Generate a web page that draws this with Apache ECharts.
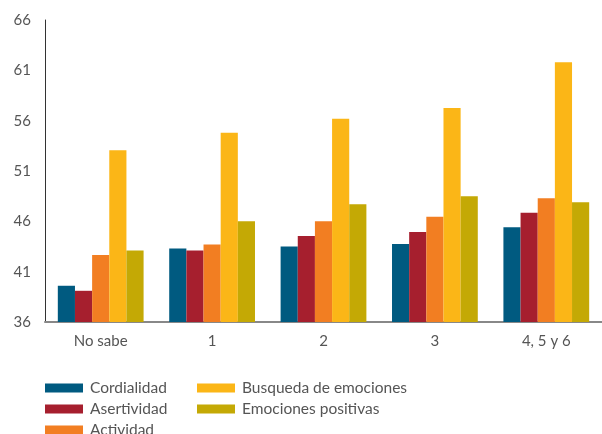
<!DOCTYPE html>
<html>
<head>
<meta charset="utf-8">
<script src="https://cdn.jsdelivr.net/npm/echarts@6/dist/echarts.min.js"></script>
<style>
  html, body { margin: 0; padding: 0; background: #fff; }
  #chart { width: 602px; height: 434px; }
</style>
</head>
<body>
<div id="chart"></div>
<script>
// Categories and series values
const categories = ['No sabe', '1', '2', '3', '4, 5 y 6'];
const cordialidad = [39.6, 43.3, 43.5, 43.75, 45.4];
const asertividad = [39.1, 43.1, 44.55, 44.95, 46.85];
const actividad = [42.65, 43.7, 46.0, 46.45, 48.3];
const busqueda = [53.05, 54.8, 56.2, 57.25, 61.8];
const emocionesPositivas = [43.1, 46.0, 47.7, 48.5, 47.9];
const yTicks = [36, 41, 46, 51, 56, 61, 66];

const seriesDefs = [
  { name: 'Cordialidad', data: cordialidad, color: '#005A80' },
  { name: 'Asertividad', data: asertividad, color: '#A61F2E' },
  { name: 'Actividad', data: actividad, color: '#F27E22' },
  { name: 'Busqueda de emociones', data: busqueda, color: '#FBB617' },
  { name: 'Emociones positivas', data: emocionesPositivas, color: '#C4A905' }
];

const font = 'Lato, "Open Sans", sans-serif';
const textColor = '#555555';

const chart = echarts.init(document.getElementById('chart'));
const legendCommon = {
  orient: 'vertical',
  height: 80,
  itemWidth: 38,
  itemHeight: 9,
  itemGap: 5,
  icon: 'rect',
  textStyle: { fontFamily: font, fontSize: 15.5, color: textColor, padding: [0, 0, 0, 2] }
};

chart.setOption({
  animation: false,
  grid: { left: 45, right: -11, top: 20, bottom: 112, containLabel: false },
  legend: [
    Object.assign({ left: 40, top: 375, data: ['Cordialidad', 'Asertividad', 'Actividad'] }, legendCommon),
    Object.assign({ left: 192, top: 375, data: ['Busqueda de emociones', 'Emociones positivas'] }, legendCommon)
  ],
  xAxis: {
    type: 'category',
    data: categories,
    axisLine: { lineStyle: { color: '#888888', width: 2 } },
    axisTick: { show: false },
    axisLabel: { fontFamily: font, fontSize: 15, color: textColor, margin: 12 }
  },
  yAxis: {
    type: 'value',
    min: yTicks[0],
    max: yTicks[yTicks.length - 1],
    interval: 5,
    axisLine: { show: true, lineStyle: { color: '#333333', width: 1 } },
    axisTick: { show: false },
    splitLine: { show: false },
    axisLabel: { fontFamily: font, fontSize: 15, color: textColor, margin: 14, align: 'right',
      formatter: v => (yTicks.indexOf(v) >= 0 ? String(v) : '') }
  },
  series: seriesDefs.map(s => ({
    name: s.name,
    type: 'bar',
    data: s.data,
    barGap: '0%',
    barCategoryGap: '23%',
    itemStyle: { color: s.color }
  }))
});
</script>
</body>
</html>
